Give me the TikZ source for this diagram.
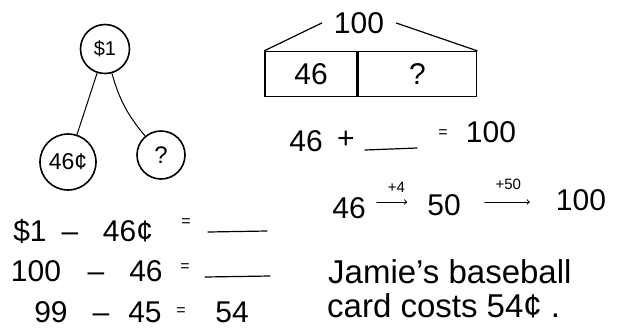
\documentclass[tikz,border=0pt]{standalone}
\usepackage{fontspec}
\setmainfont{Liberation Sans}

\begin{document}
\begin{tikzpicture}[x=1pt, y=-1pt, line cap=round,
    bubble/.style={circle, draw, line width=1.6pt, inner sep=0pt},
    hand/.style={font=\fontsize{30}{32}\selectfont, inner sep=0pt},
    signfont/.style={font=\fontsize{16}{18}\selectfont, inner sep=0pt},
    steplabel/.style={font=\fontsize{15}{17}\selectfont, inner sep=0pt},
    blank/.style={line width=1.2pt}]
      \useasboundingbox (0,0) rectangle (617,330);
      % number bond
      \node[bubble, minimum size=49pt, font=\fontsize{20}{22}\selectfont] (whole) at (105,49) {\$1};
      \node[bubble, minimum size=56pt, font=\fontsize{23}{25}\selectfont] (part) at (68,162) {46¢};
      \node[bubble, minimum size=48pt, font=\fontsize{24}{26}\selectfont] (gap) at (161,155) {?};
      \draw[line width=1pt] (whole) -- (part);
      \draw[line width=1pt] (whole) to[bend right=12] (gap);
      % bar model
      \node[hand, draw, line width=1.4pt, minimum width=92pt, minimum height=45pt] (known) at (311,74) {46};
      \node[hand, draw, line width=1.4pt, minimum width=118pt, minimum height=45pt,
        anchor=west] (unknown) at (known.east) {?};
      \node[hand, inner xsep=12pt] (total) at (359,23) {100};
      \draw[line width=1.2pt] (total.west) -- (known.north west);
      \draw[line width=1.2pt] (total.east) -- (unknown.north east);
      % missing addend
      \node[hand] (addA) at (306,141) {46};
      \node[hand] (plus) at (346,140) {+};
      \coordinate (gapL) at (365,150);
      \coordinate (gapR) at (417,148);
      \draw[blank] (gapL) -- (gapR);
      \node[signfont] (eqA) at (443,134) {=};
      \node[hand] (addB) at (491,132) {100};
      % counting on
      \node[hand] (start) at (349,208) {46};
      \node[hand] (mid) at (444,205) {50};
      \node[hand] (goal) at (581,200) {100};
      \draw[->, line width=1pt, shorten <=11pt, shorten >=20pt]
        ([yshift=6pt]start.east) -- node[above=9pt, steplabel]{+4} ([yshift=3pt]mid.west);
      \draw[->, line width=1pt, shorten <=24pt, shorten >=26pt]
        ([yshift=3pt]mid.east) -- node[above=12pt, steplabel]{+50} ([yshift=-2pt]goal.west);
      % answer
      \node[hand, anchor=base west, font=\fontsize{33}{36}\selectfont] (note1) at (328,283) {Jamie’s baseball};
      \node[hand, anchor=base west, font=\fontsize{33}{36}\selectfont] (note2) at (327,317) {card costs 54¢ .};
      % subtraction
      \node[hand, anchor=base] (rowAa) at (30,241) {\$1};
      \node[hand, anchor=base] (rowAb) at (70,241) {–};
      \node[hand, anchor=base] (rowAc) at (128,241) {46¢};
      \node[signfont] (rowAd) at (186,223) {=};
      \coordinate (lineA1) at (208,232);
      \coordinate (lineA2) at (267,231);
      \draw[blank] (lineA1) -- (lineA2);
      \node[hand, anchor=base] (rowBa) at (36,281) {100};
      \node[hand, anchor=base] (rowBb) at (96,281) {–};
      \node[hand, anchor=base] (rowBc) at (146,281) {46};
      \node[signfont] (rowBd) at (185,268) {=};
      \coordinate (lineB1) at (205,277);
      \coordinate (lineB2) at (270,276);
      \draw[blank] (lineB1) -- (lineB2);
      \node[hand, anchor=base] (rowCa) at (51,322) {99};
      \node[hand, anchor=base] (rowCb) at (101,322) {–};
      \node[hand, anchor=base] (rowCc) at (145,322) {45};
      \node[signfont] (rowCd) at (181,312) {=};
      \node[hand, anchor=base] (rowCe) at (232,322) {54};
    \end{tikzpicture}
\end{document}
